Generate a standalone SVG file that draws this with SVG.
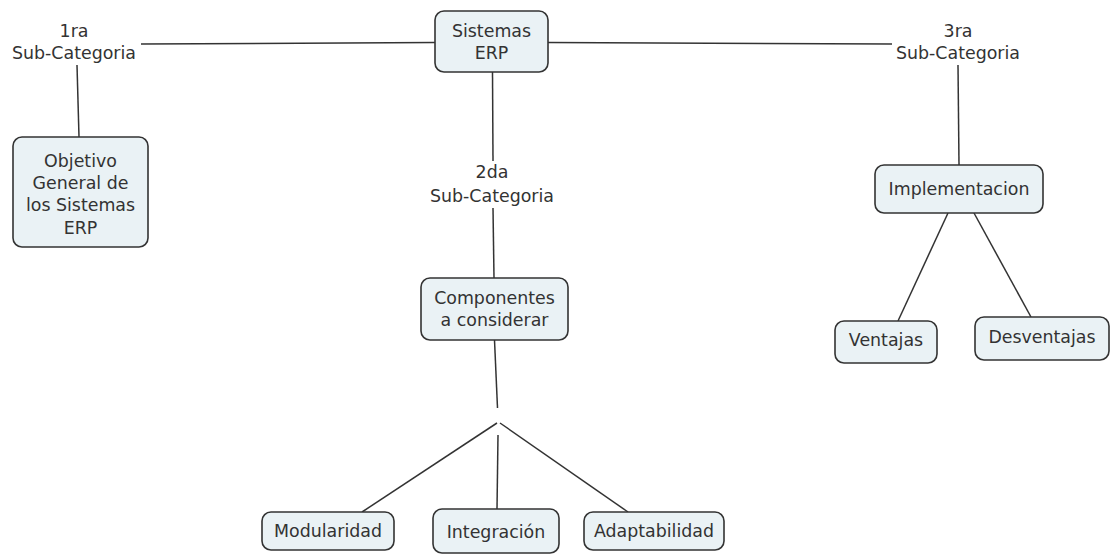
<svg xmlns="http://www.w3.org/2000/svg" width="1111" height="554" viewBox="0 0 1111 554">
  <style>
    .box { fill: #eaf2f5; stroke: #333333; stroke-width: 1.6; }
    .lbl { font-family: "DejaVu Sans", Verdana, sans-serif; font-size: 17.4px; fill: #333333; text-anchor: middle; }
    .link { stroke: #333333; stroke-width: 1.5; fill: none; }
  </style>
  <rect width="1111" height="554" fill="#ffffff"/>

  <!-- connectors -->
  <g id="connectors">
    <line class="link" x1="141" y1="44" x2="435" y2="42.5"/>
    <line class="link" x1="548" y1="42.5" x2="892" y2="44"/>
    <line class="link" x1="77" y1="65" x2="79" y2="137"/>
    <line class="link" x1="492.5" y1="72" x2="493" y2="161"/>
    <line class="link" x1="493" y1="208" x2="494" y2="278"/>
    <line class="link" x1="958" y1="65" x2="959" y2="165"/>
    <line class="link" x1="948" y1="213" x2="898" y2="321"/>
    <line class="link" x1="974" y1="213" x2="1031" y2="317"/>
    <line class="link" x1="494.5" y1="340" x2="497.5" y2="408"/>
    <line class="link" x1="497" y1="423" x2="362" y2="512"/>
    <line class="link" x1="500" y1="423" x2="628" y2="512"/>
    <line class="link" x1="498" y1="435" x2="497" y2="509"/>
  </g>

  <!-- linking phrases -->
  <g id="sub1">
    <text class="lbl" x="74" y="37">1ra</text>
    <text class="lbl" x="74" y="59">Sub-Categoria</text>
  </g>
  <g id="sub2">
    <text class="lbl" x="492" y="178">2da</text>
    <text class="lbl" x="492" y="202">Sub-Categoria</text>
  </g>
  <g id="sub3">
    <text class="lbl" x="958" y="37">3ra</text>
    <text class="lbl" x="958" y="59">Sub-Categoria</text>
  </g>

  <!-- concepts -->
  <g id="erp">
    <rect class="box" x="435" y="11" width="113" height="61" rx="9"/>
    <text class="lbl" x="491.5" y="36.5">Sistemas</text>
    <text class="lbl" x="491.5" y="58.5">ERP</text>
  </g>
  <g id="objetivo">
    <rect class="box" x="13" y="137" width="135" height="110" rx="9"/>
    <text class="lbl" x="80.5" y="166.5">Objetivo</text>
    <text class="lbl" x="80.5" y="188.5">General de</text>
    <text class="lbl" x="80.5" y="211">los Sistemas</text>
    <text class="lbl" x="80.5" y="233.5">ERP</text>
  </g>
  <g id="componentes">
    <rect class="box" x="421" y="278" width="147" height="62" rx="9"/>
    <text class="lbl" x="494.5" y="304">Componentes</text>
    <text class="lbl" x="494.5" y="326">a considerar</text>
  </g>
  <g id="implementacion">
    <rect class="box" x="875" y="165" width="168" height="48" rx="9"/>
    <text class="lbl" x="959" y="195">Implementacion</text>
  </g>
  <g id="ventajas">
    <rect class="box" x="835" y="321" width="102" height="42" rx="9"/>
    <text class="lbl" x="886" y="345.5">Ventajas</text>
  </g>
  <g id="desventajas">
    <rect class="box" x="975" y="317" width="134" height="43" rx="9"/>
    <text class="lbl" x="1042" y="343">Desventajas</text>
  </g>
  <g id="modularidad">
    <rect class="box" x="262" y="512" width="132" height="38" rx="9"/>
    <text class="lbl" x="328" y="536.5">Modularidad</text>
  </g>
  <g id="integracion">
    <rect class="box" x="433" y="509" width="126" height="44" rx="9"/>
    <text class="lbl" x="496" y="538">Integración</text>
  </g>
  <g id="adaptabilidad">
    <rect class="box" x="584" y="512" width="140" height="38" rx="9"/>
    <text class="lbl" x="654" y="536.5">Adaptabilidad</text>
  </g>
</svg>
